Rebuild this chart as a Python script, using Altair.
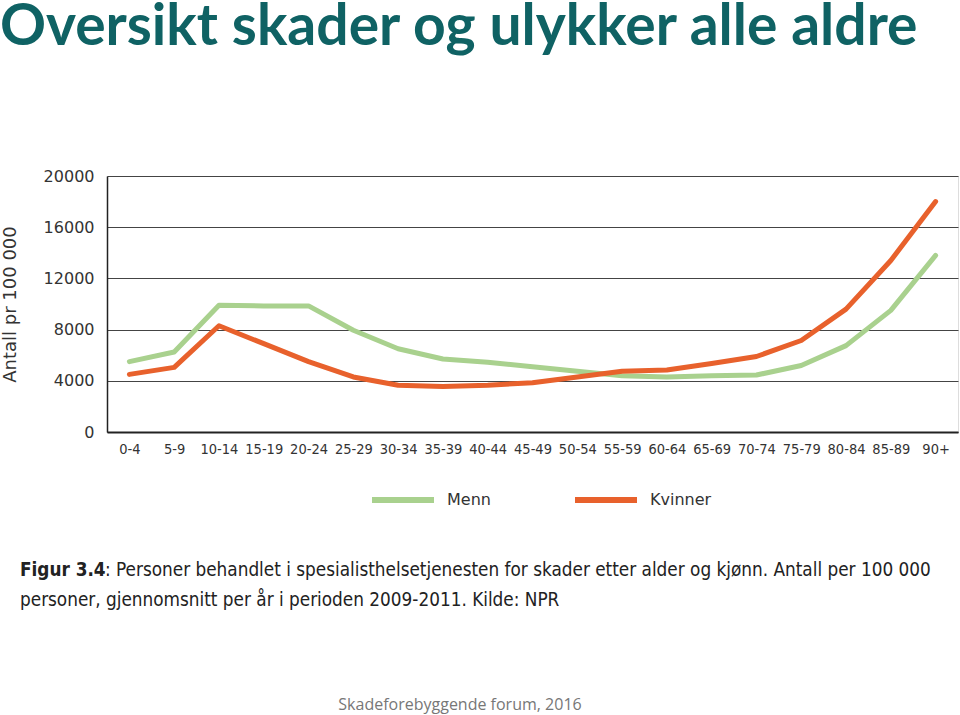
import altair as alt
import pandas as pd

ages = ["0-4", "5-9", "10-14", "15-19", "20-24", "25-29", "30-34", "35-39", "40-44",
        "45-49", "50-54", "55-59", "60-64", "65-69", "70-74", "75-79", "80-84", "85-89", "90+"]
menn = [5500, 6250, 9900, 9850, 9850, 7950, 6500, 5700, 5450,
        5100, 4750, 4400, 4300, 4400, 4450, 5200, 6750, 9500, 13800]
kvinner = [4500, 5050, 8300, 6900, 5500, 4300, 3650, 3550, 3650,
           3850, 4300, 4750, 4850, 5350, 5900, 7150, 9600, 13400, 18000]
series = ["Menn", "Kvinner"]
colors = ["#a9d18e", "#e8612c"]

title_text = "Oversikt skader og ulykker alle aldre"
caption_bold = "Figur 3.4"
caption_1 = ": Personer behandlet i spesialisthelsetjenesten for skader etter alder og kjønn. Antall per 100 000"
caption_2 = "personer, gjennomsnitt per år i perioden 2009-2011. Kilde: NPR"
footer = "Skadeforebyggende forum, 2016"

rows = []
for i, a in enumerate(ages):
    rows.append({"Alder": a, "Kjønn": "Menn", "Antall": menn[i], "ord": i})
    rows.append({"Alder": a, "Kjønn": "Kvinner", "Antall": kvinner[i], "ord": i})
df = pd.DataFrame(rows)

COND = "DejaVu Sans Condensed"
CAPF = "DejaVu Sans"

lines = alt.Chart(df).mark_line(strokeWidth=5, strokeCap="round", strokeJoin="round").encode(
    x=alt.X("Alder:N", sort=ages, scale=alt.Scale(padding=0.5),
            axis=alt.Axis(title=None, labelAngle=0, labelFont=COND, labelFontSize=14.5,
                          labelColor="#333333", ticks=False, labelPadding=10,
                          domainColor="#222222", domainWidth=2, grid=False)),
    y=alt.Y("Antall:Q", scale=alt.Scale(domain=[0, 20000]),
            axis=alt.Axis(title="Antall pr 100 000", values=[0, 4000, 8000, 12000, 16000, 20000],
                          format="d", labelFont=CAPF, labelFontSize=16, labelColor="#333333",
                          titleFont=CAPF, titleFontSize=18, titleColor="#333333",
                          titleFontWeight="normal", titlePadding=24,
                          ticks=False, labelPadding=13, domainColor="#222222", domainWidth=1.5,
                          gridColor="#444444", gridWidth=1.2)),
    color=alt.Color("Kjønn:N", scale=alt.Scale(domain=series, range=colors),
                    legend=alt.Legend(title=None, orient="none", legendX=262, legendY=290,
                                      direction="horizontal", symbolType="stroke",
                                      symbolSize=3844, symbolStrokeWidth=6,
                                      labelFont=CAPF, labelFontSize=16, labelColor="#333333",
                                      labelOffset=10, columnPadding=72)),
    order="ord:Q",
)

def txt(text, x, y, **kw):
    return alt.Chart(pd.DataFrame({"t": [text]})).mark_text(align="left", baseline="alphabetic", **kw).encode(
        text="t:N", x=alt.value(x), y=alt.value(y))

title = txt(title_text, -107, -131, font="Lato", fontSize=57, fontWeight="bold", color="#0f6264")
cap_b = txt(caption_bold, -87, 400, font=COND, fontSize=18.8, fontWeight="bold", color="#222222")
cap_1 = txt(caption_1, -2, 400, font=COND, fontSize=18.8, color="#222222")
cap_2 = txt(caption_2, -87, 430, font=COND, fontSize=18.8, color="#222222")
foot = alt.Chart(pd.DataFrame({"t": [footer]})).mark_text(align="center", baseline="alphabetic",
        font="Open Sans", fontSize=16, color="#777777").encode(text="t:N", x=alt.value(353), y=alt.value(534))

chart = alt.layer(lines, title, cap_b, cap_1, cap_2, foot).properties(
    width=851, height=256,
    autosize=alt.AutoSizeParams(type="none"),
    padding={"left": 107, "top": 176, "right": 2, "bottom": 283},
).configure_view(stroke=None).configure(background="white")

chart.save("out.html", embed_options={"renderer": "svg", "actions": False})
